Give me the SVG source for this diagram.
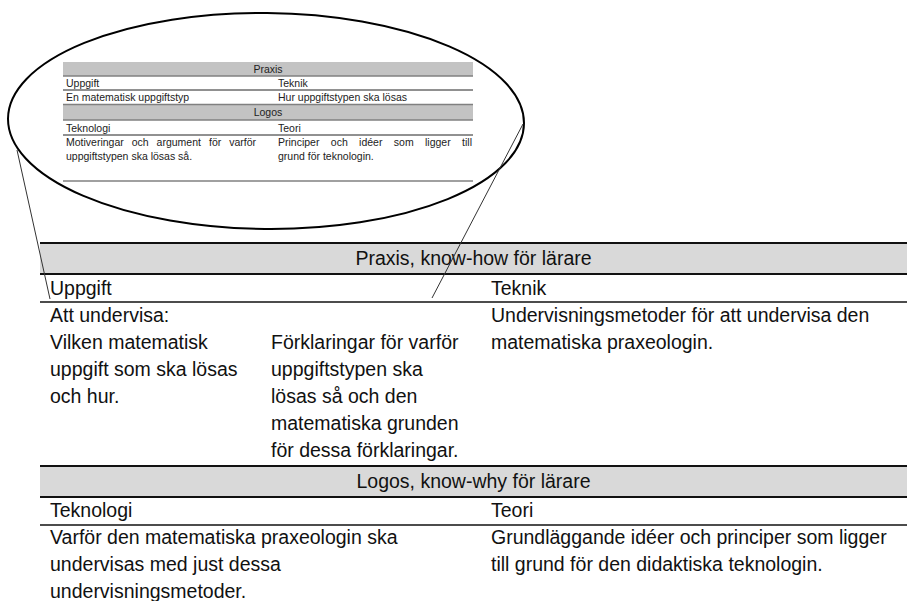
<svg xmlns="http://www.w3.org/2000/svg" width="907" height="601" viewBox="0 0 907 601">
<style>
text{font-family:"Liberation Sans",Arial,sans-serif;fill:#111}
.m{font-size:19.5px}
.s{font-size:10.5px;fill:#222}
.c{text-anchor:middle}
.band{fill:#d9d9d9}
.iband{fill:#c3c3c3}
.thick{stroke:#111;stroke-width:2}
.thin{stroke:#111;stroke-width:1.5}
.ithin{stroke:#222;stroke-width:1}
.iband-line{stroke:#808080;stroke-width:1.5}
.conn{stroke:#333;stroke-width:1;fill:none}
</style>
<rect width="907" height="601" fill="#fff"/>

<g id="zoom-ellipse">
<g id="mini-table">
<rect class="iband" x="63" y="62" width="410" height="14"/>
<line class="iband-line" x1="63" y1="76" x2="473" y2="76"/>
<text class="s c" x="268" y="73">Praxis</text>
<text class="s" x="66" y="87">Uppgift</text>
<text class="s" x="278" y="87">Teknik</text>
<line class="ithin" x1="63" y1="90" x2="473" y2="90"/>
<text class="s" x="66" y="101">En matematisk uppgiftstyp</text>
<text class="s" x="278" y="101">Hur uppgiftstypen ska lösas</text>
<rect class="iband" x="63" y="104" width="410" height="16"/>
<line class="iband-line" x1="63" y1="104.5" x2="473" y2="104.5"/>
<line class="iband-line" x1="63" y1="120" x2="473" y2="120"/>
<text class="s c" x="268" y="116">Logos</text>
<text class="s" x="66" y="132">Teknologi</text>
<text class="s" x="278" y="132">Teori</text>
<line class="ithin" x1="63" y1="135" x2="473" y2="135"/>
<text class="s" y="146"><tspan x="66">Motiveringar</tspan> <tspan x="131.7">och</tspan> <tspan x="156.6">argument</tspan> <tspan x="209">för</tspan> <tspan x="229.2">varför</tspan></text>
<text class="s" x="66" y="160">uppgiftstypen ska lösas så.</text>
<text class="s" y="146"><tspan x="278">Principer</tspan> <tspan x="330.8">och</tspan> <tspan x="359.1">idéer</tspan> <tspan x="393.8">som</tspan> <tspan x="425">ligger</tspan> <tspan x="462.1">till</tspan></text>
<text class="s" x="278" y="160">grund för teknologin.</text>
<line class="iband-line" x1="63" y1="181" x2="473" y2="181"/>
</g>
<ellipse cx="266" cy="121" rx="258" ry="108" fill="none" stroke="#000" stroke-width="2" transform="rotate(0.55 266 121)"/>
</g>

<g id="table">
<g id="praxis-header">
<rect class="band" x="40" y="243" width="867" height="31"/>
<line class="thick" x1="40" y1="243" x2="907" y2="243"/>
<line class="thick" x1="40" y1="274" x2="907" y2="274"/>
<text class="m c" x="473.5" y="265">Praxis, know-how för lärare</text>
</g>
<g id="uppgift">
<text class="m" x="50" y="295">Uppgift</text>
<text class="m" x="50" y="322">Att undervisa:</text>
<text class="m" x="50" y="349">Vilken matematisk</text>
<text class="m" x="50" y="376">uppgift som ska lösas</text>
<text class="m" x="50" y="403">och hur.</text>
<text class="m" x="271" y="349">Förklaringar för varför</text>
<text class="m" x="271" y="376">uppgiftstypen ska</text>
<text class="m" x="271" y="403">lösas så och den</text>
<text class="m" x="271" y="430">matematiska grunden</text>
<text class="m" x="271" y="457">för dessa förklaringar.</text>
</g>
<g id="teknik">
<text class="m" x="491" y="295">Teknik</text>
<text class="m" x="491" y="322">Undervisningsmetoder för att undervisa den</text>
<text class="m" x="491" y="349">matematiska praxeologin.</text>
</g>
<line class="thin" x1="40" y1="302" x2="907" y2="302"/>
<g id="logos-header">
<rect class="band" x="40" y="466" width="867" height="31"/>
<line class="thick" x1="40" y1="466" x2="907" y2="466"/>
<line class="thick" x1="40" y1="497" x2="907" y2="497"/>
<text class="m c" x="473.5" y="488">Logos, know-why för lärare</text>
</g>
<g id="teknologi">
<text class="m" x="50" y="517">Teknologi</text>
<text class="m" x="50" y="544">Varför den matematiska praxeologin ska</text>
<text class="m" x="50" y="571">undervisas med just dessa</text>
<text class="m" x="50" y="598">undervisningsmetoder.</text>
</g>
<g id="teori">
<text class="m" x="491" y="517">Teori</text>
<text class="m" x="491" y="544">Grundläggande idéer och principer som ligger</text>
<text class="m" x="491" y="571">till grund för den didaktiska teknologin.</text>
</g>
<line class="thin" x1="40" y1="525" x2="907" y2="525"/>
</g>

<g id="connectors">
<line class="conn" x1="17" y1="150" x2="50" y2="299"/>
<line class="conn" x1="523" y1="124" x2="432" y2="298"/>
</g>
</svg>
